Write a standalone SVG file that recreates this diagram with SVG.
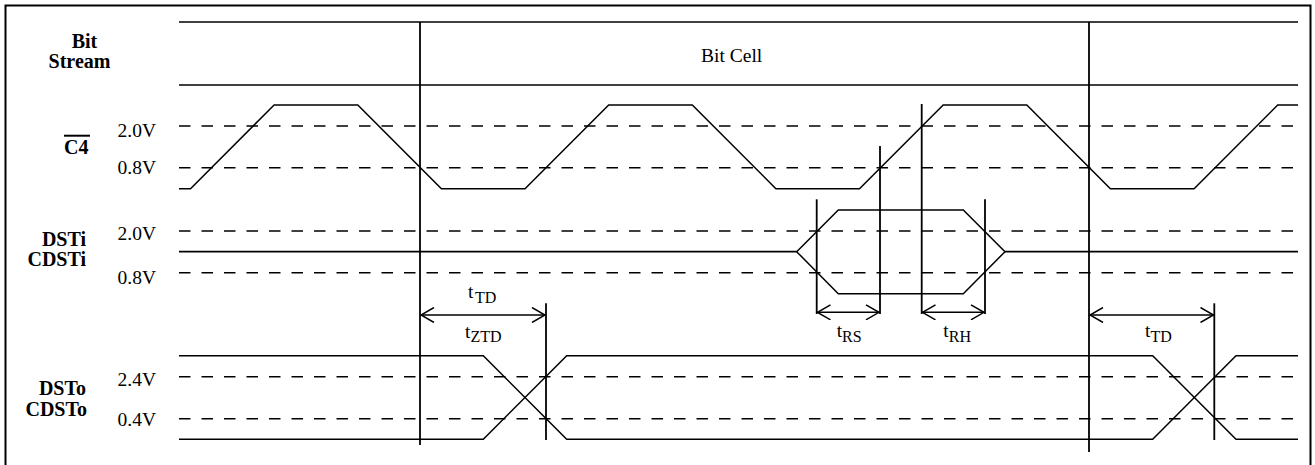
<svg xmlns="http://www.w3.org/2000/svg" width="1315" height="465" viewBox="0 0 1315 465">
<style>
  .ln{stroke:#000;stroke-width:1.7;fill:none}
  .wv{stroke:#000;stroke-width:1.5;fill:none;stroke-linejoin:miter}
  .dash{stroke:#000;stroke-width:1.6;stroke-dasharray:11.5 11;fill:none}
  .tick{stroke:#000;stroke-width:1.8;fill:none}
  .arr{stroke:#000;stroke-width:1.5;fill:none;marker-start:url(#ah);marker-end:url(#ah)}
  .lbl{font-family:"Liberation Serif","Times New Roman",serif;font-size:20px;font-weight:bold;fill:#000}
  .v{font-family:"Liberation Serif","Times New Roman",serif;font-size:19.5px;fill:#000}
  .sub{font-size:16px}
</style>
<defs>
  <marker id="ah" viewBox="-14 -8 15 16" refX="0" refY="0" markerWidth="15" markerHeight="16" markerUnits="userSpaceOnUse" orient="auto-start-reverse">
    <path d="M-13,-7.5 L0,0 L-13,7.5" fill="none" stroke="#000" stroke-width="1.5"/>
  </marker>
</defs>
<rect width="1315" height="465" fill="#fff"/>
<rect x="5.5" y="5.5" width="1305" height="470" fill="none" stroke="#000" stroke-width="2"/>

<g id="bitstream">
  <line class="ln" x1="179" y1="22" x2="1298" y2="22"/>
  <line class="ln" x1="179" y1="85" x2="1298" y2="85"/>
  <text class="lbl" x="84.5" y="48.3" text-anchor="middle">Bit</text>
  <text class="lbl" x="79.5" y="68.3" text-anchor="middle">Stream</text>
  <text class="v" x="731.7" y="61.5" text-anchor="middle">Bit Cell</text>
</g>

<g id="c4">
  <text class="lbl" x="64" y="154.3">C4</text>
  <line x1="64" y1="135.7" x2="90" y2="135.7" stroke="#000" stroke-width="2"/>
  <text class="v" x="117.5" y="137">2.0V</text>
  <text class="v" x="117.5" y="173.5">0.8V</text>
  <line class="dash" x1="179" y1="126" x2="1298" y2="126"/>
  <line class="dash" x1="179" y1="167.7" x2="1298" y2="167.7"/>
  <polyline class="wv" points="179,188.7 190.5,188.7 274.1,105 357.8,105 441.4,188.7 525,188.7 608.7,105 692.3,105 775.9,188.7 859.5,188.7 943.2,105 1026.8,105 1110.4,188.7 1194.1,188.7 1277.7,105 1298,105"/>
</g>

<g id="dsti">
  <text class="lbl" x="86" y="246" text-anchor="end">DSTi</text>
  <text class="lbl" x="86" y="266" text-anchor="end">CDSTi</text>
  <text class="v" x="117.5" y="240">2.0V</text>
  <text class="v" x="117.5" y="284">0.8V</text>
  <line class="dash" x1="179" y1="231" x2="1298" y2="231"/>
  <line class="dash" x1="179" y1="272.7" x2="1298" y2="272.7"/>
  <line class="ln" x1="179" y1="251.7" x2="796.7" y2="251.7"/>
  <polygon class="wv" points="796.7,251.7 838.3,210 963.3,210 1005,251.7 963.3,293.7 838.3,293.7"/>
  <line class="ln" x1="1005" y1="251.7" x2="1298" y2="251.7"/>
</g>

<g id="dsto">
  <text class="lbl" x="86" y="395" text-anchor="end">DSTo</text>
  <text class="lbl" x="87" y="416" text-anchor="end">CDSTo</text>
  <text class="v" x="117.5" y="386">2.4V</text>
  <text class="v" x="117.5" y="426">0.4V</text>
  <line class="dash" x1="179" y1="376.7" x2="1298" y2="376.7"/>
  <line class="dash" x1="179" y1="418.7" x2="1298" y2="418.7"/>
  <polyline class="wv" points="179,355.7 483.3,355.7 566.7,439.3 1152.7,439.3 1236,355.7 1298,355.7"/>
  <polyline class="wv" points="179,439.3 483.3,439.3 566.7,355.7 1152.7,355.7 1236,439.3 1298,439.3"/>
</g>

<g id="connectors">
  <line class="tick" x1="420" y1="22" x2="420" y2="445"/>
  <line class="tick" x1="1089" y1="22" x2="1089" y2="452"/>
  <line class="tick" x1="880" y1="146" x2="880" y2="314"/>
  <line class="tick" x1="921.7" y1="104" x2="921.7" y2="314"/>
  <line class="tick" x1="816.7" y1="199.3" x2="816.7" y2="314"/>
  <line class="tick" x1="985" y1="199.3" x2="985" y2="314"/>
  <line class="tick" x1="546" y1="303.3" x2="546" y2="440"/>
  <line class="tick" x1="1214.3" y1="303.3" x2="1214.3" y2="440"/>
  <line class="arr" x1="421" y1="315" x2="545" y2="315"/>
  <line class="arr" x1="817.5" y1="312.3" x2="879" y2="312.3"/>
  <line class="arr" x1="922.5" y1="312.3" x2="984" y2="312.3"/>
  <line class="arr" x1="1090" y1="315" x2="1213.5" y2="315"/>
</g>

<g id="timing-labels">
  <text class="v" x="468" y="298">t<tspan class="sub" dx="1.5" dy="5">TD</tspan></text>
  <text class="v" x="465" y="338">t<tspan class="sub" dy="4">ZTD</tspan></text>
  <text class="v" x="836.7" y="337">t<tspan class="sub" dy="5">RS</tspan></text>
  <text class="v" x="943.3" y="337">t<tspan class="sub" dy="5">RH</tspan></text>
  <text class="v" x="1145" y="337">t<tspan class="sub" dy="5">TD</tspan></text>
</g>
</svg>
